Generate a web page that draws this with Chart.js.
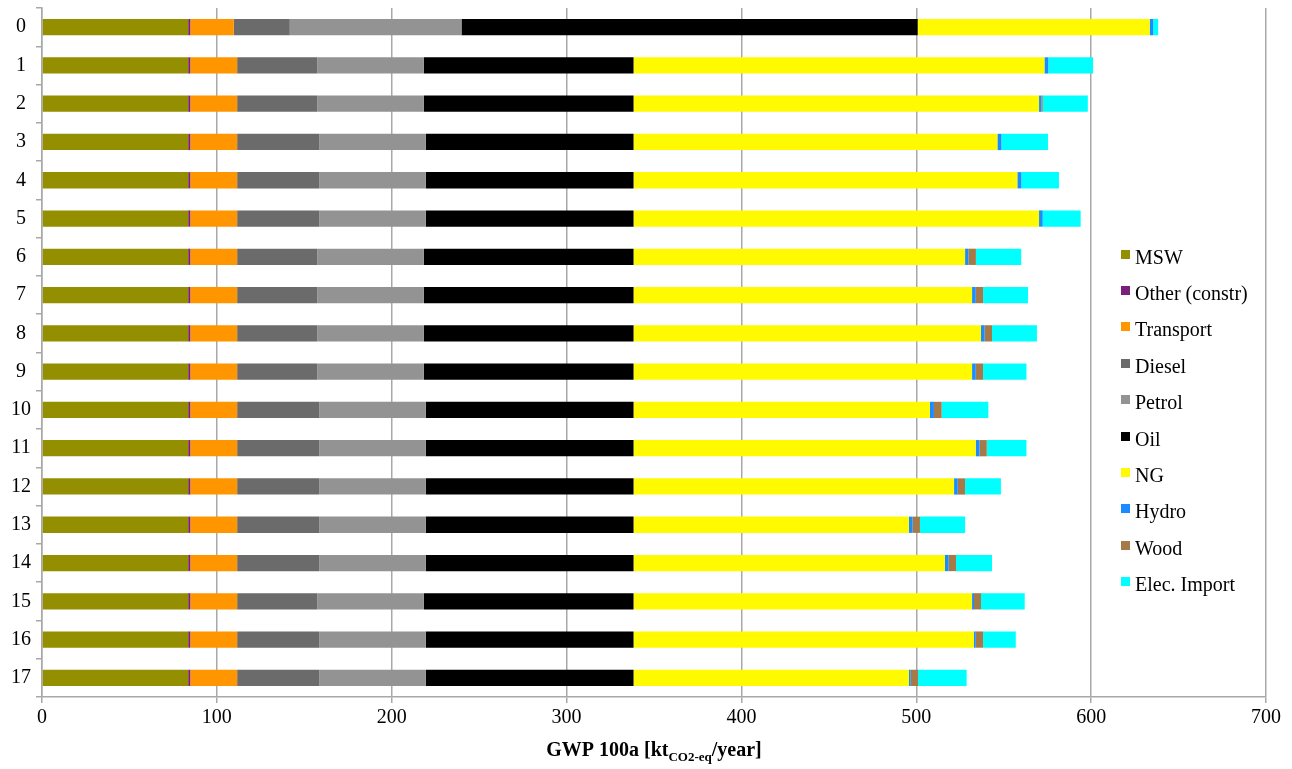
<!DOCTYPE html>
<html>
<head>
<meta charset="utf-8">
<script src="https://cdn.jsdelivr.net/npm/chart.js@4/dist/chart.umd.min.js"></script>
<style>
  html, body { margin: 0; padding: 0; background: #fff; }
  #wrap { position: relative; width: 1292px; height: 769px; }
  #chart { position: absolute; left: 0; top: 0; }
  #legend { position: absolute; left: 1121px; top: 239px; font-family: "Liberation Serif", serif; font-size: 20px; color: #000; }
  .item { height: 36.4px; display: flex; align-items: center; white-space: nowrap; }
  .box { width: 9px; height: 9px; margin-right: 5px; position: relative; top: -3px; }
</style>
</head>
<body>
<div id="wrap">
  <canvas id="chart" width="1292" height="769"></canvas>
  <div id="legend"></div>
</div>
<script>
// scenarios 0..17
var categories = ['0','1','2','3','4','5','6','7','8','9','10','11','12','13','14','15','16','17']
var xTicks = [0,100,200,300,400,500,600,700]

var msw       = [83.6,83.6,83.6,83.6,83.6,83.6,83.6,83.6,83.6,83.6,83.6,83.6,83.6,83.6,83.6,83.6,83.6,83.6]
var other     = [1.2,1.2,1.2,1.2,1.2,1.2,1.2,1.2,1.2,1.2,1.2,1.2,1.2,1.2,1.2,1.2,1.2,1.2]
var transport = [24.9,26.8,26.8,26.8,26.8,26.8,26.8,26.8,26.8,26.8,26.8,26.8,26.8,26.8,26.8,26.8,26.8,26.8]
var diesel    = [32.0,45.8,45.8,46.9,46.9,46.9,45.8,45.8,45.8,45.8,46.9,46.9,46.9,46.9,46.9,45.8,46.9,46.9]
var petrol    = [98.2,61.0,61.0,61.0,61.0,61.0,61.0,61.0,61.0,61.0,61.0,61.0,61.0,61.0,61.0,61.0,61.0,61.0]
var oil       = [260.9,119.9,119.9,118.8,118.8,118.8,119.9,119.9,119.9,119.9,118.8,118.8,118.8,118.8,118.8,119.9,118.8,118.8]
var ng        = [132.7,235.0,231.9,208.1,219.5,231.9,189.6,193.6,198.7,193.6,169.5,195.7,183.3,157.5,178.1,193.6,194.7,157.5]
var hydro     = [2.0,2.2,1.3,2.3,2.3,2.1,1.9,2.1,2.1,2.1,2.3,2.1,2.1,2.1,2.1,1.1,1.0,1.0]
var wood      = [0,0,0.8,0,0,0,4.3,4.2,4.2,4.2,4.4,4.2,4.2,4.2,4.2,4.0,4.2,4.2]
var elecImport= [2.8,25.6,25.8,26.6,21.5,21.7,25.9,25.7,25.7,24.8,26.7,22.7,20.5,25.8,20.6,25.0,18.7,27.8]

var seriesNames  = ['MSW','Other (constr)','Transport','Diesel','Petrol','Oil','NG','Hydro','Wood','Elec. Import']
var seriesData   = [msw,other,transport,diesel,petrol,oil,ng,hydro,wood,elecImport]
var seriesColors = ['#948F00','#7B1F7C','#FF9600','#6B6B6B','#939393','#000000','#FFFA00','#1A8CFF','#A57A48','#00FFFF']

var FONT = '"Liberation Serif", "Times New Roman", serif'
var GRID = '#a8a8a8'

var datasets = seriesNames.map(function(name, i){
    return {
        label: name,
        data: seriesData[i],
        backgroundColor: seriesColors[i],
        borderWidth: 0,
        barPercentage: 0.85,
        categoryPercentage: 0.5
    }
})

// x-axis title with subscript
var axisTitle = {
    id: 'axisTitle',
    afterDraw: function(chart){
        var ctx = chart.ctx
        var area = chart.chartArea
        var parts = [
            ['GWP 100a [kt', 'bold 20px ' + FONT, 0],
            ['CO2-eq', 'bold 13px ' + FONT, 5],
            ['/year]', 'bold 20px ' + FONT, 0]
        ]
        var total = 0
        parts.forEach(function(p){ ctx.font = p[1]; total += ctx.measureText(p[0]).width })
        var x = (area.left + area.right) / 2 - total / 2
        var y = 756
        ctx.save()
        ctx.fillStyle = '#000'
        ctx.textBaseline = 'alphabetic'
        ctx.textAlign = 'left'
        parts.forEach(function(p){
            ctx.font = p[1]
            ctx.fillText(p[0], x, y + p[2])
            x += ctx.measureText(p[0]).width
        })
        ctx.restore()
    }
}

var chart = new Chart(document.getElementById('chart'), {
    type: 'bar',
    data: { labels: categories, datasets: datasets },
    options: {
        indexAxis: 'y',
        responsive: false,
        animation: false,
        devicePixelRatio: 1,
        layout: { padding: { top: 8, right: 26, left: 0, bottom: 0 } },
        plugins: {
            legend: { display: false },
            tooltip: { enabled: false }
        },
        scales: {
            x: {
                stacked: true,
                min: 0,
                max: 700,
                afterBuildTicks: function(scale){
                    scale.ticks = xTicks.map(function(v){ return { value: v } })
                },
                afterFit: function(scale){ scale.height = 72 },
                grid: { color: GRID, lineWidth: 1.5, tickLength: 6, drawTicks: true },
                border: { color: GRID, width: 1.5 },
                ticks: { color: '#000', padding: 3, font: { family: FONT, size: 20 }, maxRotation: 0 }
            },
            y: {
                stacked: true,
                afterFit: function(scale){
                    scale.width = 42
                    scale.paddingTop = 0
                    scale.paddingBottom = 0
                },
                grid: { drawOnChartArea: false, color: GRID, lineWidth: 1.5, tickLength: 6, offset: true },
                border: { color: GRID, width: 1.5 },
                ticks: { color: '#000', padding: 5, crossAlign: 'center', font: { family: FONT, size: 20, lineHeight: 0.5 } }
            }
        }
    },
    plugins: [axisTitle]
})

// legend as html
var legendEl = document.getElementById('legend')
seriesNames.forEach(function(name, i){
    var row = document.createElement('div')
    row.className = 'item'
    var box = document.createElement('span')
    box.className = 'box'
    box.style.background = seriesColors[i]
    var txt = document.createElement('span')
    txt.textContent = name
    row.appendChild(box)
    row.appendChild(txt)
    legendEl.appendChild(row)
})
</script>
</body>
</html>
